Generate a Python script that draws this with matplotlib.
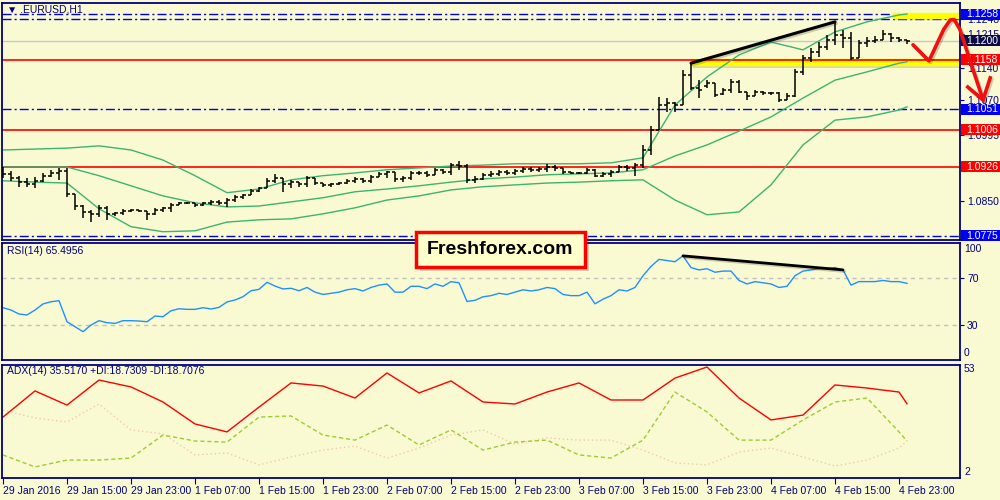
import matplotlib
matplotlib.use("Agg")
import numpy as np
import matplotlib.pyplot as plt
import matplotlib.patheffects as pe
from matplotlib.patches import Rectangle
from matplotlib.transforms import blended_transform_factory

plt.rcParams["font.family"] = ["Liberation Sans", "DejaVu Sans"]

BG = "#FAFAD2"
NAVY = "#000080"

# -----------------------------
# EURUSD H1 bars (29 Jan 07:00 ... 5 Feb 00:00)
# -----------------------------
opens = [1.0919, 1.0910, 1.0901, 1.0892, 1.0888, 1.0895, 1.0906, 1.0912, 1.0916, 1.0866,
         1.0840, 1.0827, 1.0823, 1.0836, 1.0823, 1.0825, 1.0829, 1.0832, 1.0829, 1.0823,
         1.0832, 1.0836, 1.0842, 1.0847, 1.0847, 1.0842, 1.0847, 1.0849, 1.0847, 1.0853,
         1.0860, 1.0864, 1.0873, 1.0879, 1.0895, 1.0901, 1.0888, 1.0892, 1.0888, 1.0901,
         1.0890, 1.0886, 1.0888, 1.0890, 1.0895, 1.0899, 1.0895, 1.0903, 1.0910, 1.0914,
         1.0899, 1.0901, 1.0912, 1.0912, 1.0908, 1.0919, 1.0914, 1.0929, 1.0927, 1.0897,
         1.0899, 1.0908, 1.0910, 1.0914, 1.0912, 1.0916, 1.0921, 1.0919, 1.0921, 1.0925,
         1.0923, 1.0914, 1.0912, 1.0912, 1.0919, 1.0906, 1.0910, 1.0914, 1.0925, 1.0923,
         1.0929, 1.0962, 1.1006, 1.1060, 1.1064, 1.1060, 1.1125, 1.1097, 1.1101, 1.1108,
         1.1084, 1.1093, 1.1110, 1.1088, 1.1080, 1.1088, 1.1086, 1.1086, 1.1071, 1.1080,
         1.1132, 1.1162, 1.1175, 1.1186, 1.1201, 1.1212, 1.1206, 1.1162, 1.1195, 1.1199,
         1.1201, 1.1215, 1.1206, 1.1201]
highs = [1.0925, 1.0916, 1.0906, 1.0901, 1.0903, 1.0912, 1.0919, 1.0923, 1.0923, 1.0866,
         1.0842, 1.0832, 1.0842, 1.0840, 1.0827, 1.0834, 1.0834, 1.0832, 1.0829, 1.0836,
         1.0838, 1.0847, 1.0849, 1.0849, 1.0847, 1.0849, 1.0853, 1.0853, 1.0858, 1.0864,
         1.0866, 1.0877, 1.0882, 1.0901, 1.0910, 1.0901, 1.0897, 1.0892, 1.0906, 1.0901,
         1.0890, 1.0890, 1.0892, 1.0899, 1.0903, 1.0901, 1.0908, 1.0914, 1.0916, 1.0914,
         1.0906, 1.0916, 1.0916, 1.0916, 1.0923, 1.0921, 1.0934, 1.0938, 1.0932, 1.0906,
         1.0912, 1.0916, 1.0919, 1.0919, 1.0921, 1.0925, 1.0925, 1.0925, 1.0932, 1.0929,
         1.0923, 1.0914, 1.0914, 1.0923, 1.0921, 1.0914, 1.0919, 1.0929, 1.0929, 1.0934,
         1.0973, 1.1014, 1.1078, 1.1075, 1.1067, 1.1136, 1.1151, 1.1114, 1.1114, 1.1108,
         1.1097, 1.1117, 1.1114, 1.1088, 1.1093, 1.1091, 1.1088, 1.1088, 1.1086, 1.1138,
         1.1169, 1.1184, 1.1197, 1.1212, 1.1241, 1.1223, 1.1219, 1.1201, 1.1208, 1.1210,
         1.1223, 1.1217, 1.1208, 1.1201]
lows = [1.0901, 1.0895, 1.0882, 1.0882, 1.0879, 1.0892, 1.0903, 1.0897, 1.0860, 1.0832,
        1.0814, 1.0805, 1.0816, 1.0810, 1.0818, 1.0821, 1.0827, 1.0827, 1.0810, 1.0821,
        1.0827, 1.0827, 1.0842, 1.0845, 1.0838, 1.0840, 1.0842, 1.0842, 1.0838, 1.0849,
        1.0855, 1.0864, 1.0871, 1.0879, 1.0890, 1.0871, 1.0879, 1.0882, 1.0882, 1.0886,
        1.0882, 1.0882, 1.0886, 1.0888, 1.0890, 1.0890, 1.0890, 1.0903, 1.0901, 1.0892,
        1.0892, 1.0897, 1.0908, 1.0903, 1.0908, 1.0910, 1.0908, 1.0919, 1.0890, 1.0890,
        1.0897, 1.0903, 1.0906, 1.0908, 1.0908, 1.0912, 1.0914, 1.0914, 1.0914, 1.0916,
        1.0910, 1.0910, 1.0910, 1.0910, 1.0903, 1.0903, 1.0903, 1.0914, 1.0916, 1.0906,
        1.0923, 1.0951, 1.1006, 1.1045, 1.1045, 1.1060, 1.1093, 1.1075, 1.1097, 1.1078,
        1.1082, 1.1086, 1.1086, 1.1071, 1.1080, 1.1082, 1.1082, 1.1067, 1.1071, 1.1078,
        1.1125, 1.1154, 1.1164, 1.1180, 1.1191, 1.1184, 1.1158, 1.1162, 1.1186, 1.1195,
        1.1201, 1.1197, 1.1197, 1.1193]
closes = [1.0910, 1.0901, 1.0892, 1.0888, 1.0895, 1.0906, 1.0912, 1.0916, 1.0866, 1.0840,
          1.0827, 1.0823, 1.0836, 1.0823, 1.0825, 1.0829, 1.0832, 1.0829, 1.0823, 1.0832,
          1.0836, 1.0842, 1.0847, 1.0847, 1.0842, 1.0847, 1.0849, 1.0847, 1.0853, 1.0860,
          1.0864, 1.0873, 1.0879, 1.0895, 1.0901, 1.0888, 1.0892, 1.0888, 1.0901, 1.0890,
          1.0886, 1.0888, 1.0890, 1.0895, 1.0899, 1.0895, 1.0903, 1.0910, 1.0914, 1.0899,
          1.0901, 1.0912, 1.0912, 1.0908, 1.0919, 1.0914, 1.0929, 1.0927, 1.0897, 1.0899,
          1.0908, 1.0910, 1.0914, 1.0912, 1.0916, 1.0921, 1.0919, 1.0921, 1.0925, 1.0923,
          1.0914, 1.0912, 1.0912, 1.0919, 1.0906, 1.0910, 1.0914, 1.0925, 1.0923, 1.0929,
          1.0962, 1.1006, 1.1060, 1.1064, 1.1060, 1.1125, 1.1097, 1.1093, 1.1108, 1.1082,
          1.1093, 1.1110, 1.1088, 1.1080, 1.1088, 1.1086, 1.1086, 1.1071, 1.1080, 1.1132,
          1.1162, 1.1175, 1.1186, 1.1201, 1.1212, 1.1206, 1.1162, 1.1195, 1.1199, 1.1201,
          1.1215, 1.1206, 1.1201, 1.1200]

# Bollinger bands, read every 4th bar
band_idx = [0, 4, 8, 12, 16, 20, 24, 28, 32, 36, 40, 44, 48, 52, 56, 60, 64, 68, 72, 76,
            80, 84, 88, 92, 96, 100, 104, 108, 112, 113]
bb_upper = [1.0962, 1.0964, 1.0966, 1.0971, 1.0962, 1.0940, 1.0906, 1.0869, 1.0877, 1.0897,
            1.0906, 1.0912, 1.0919, 1.0923, 1.0927, 1.0929, 1.0932, 1.0932, 1.0932, 1.0934,
            1.0945, 1.1060, 1.1121, 1.1169, 1.1197, 1.1180, 1.1219, 1.1241, 1.1256, 1.1258]
bb_middle = [1.0925, 1.0925, 1.0925, 1.0906, 1.0884, 1.0862, 1.0847, 1.0838, 1.0840, 1.0849,
             1.0858, 1.0871, 1.0877, 1.0884, 1.0892, 1.0899, 1.0903, 1.0908, 1.0910, 1.0912,
             1.0919, 1.0949, 1.0973, 1.1003, 1.1034, 1.1075, 1.1114, 1.1132, 1.1151, 1.1154]
bb_lower = [1.0895, 1.0892, 1.0890, 1.0834, 1.0795, 1.0784, 1.0786, 1.0805, 1.0810, 1.0812,
            1.0823, 1.0836, 1.0853, 1.0862, 1.0875, 1.0882, 1.0886, 1.0890, 1.0892, 1.0895,
            1.0897, 1.0853, 1.0821, 1.0827, 1.0886, 1.0973, 1.1027, 1.1034, 1.1049, 1.1056]

# RSI(14)
rsi = [44.7, 42.7, 39.3, 38.5, 42.7, 47.9, 49.8, 50.7, 32.7, 28.5,
       24.2, 29.9, 33.6, 31.9, 31.3, 33.6, 33.6, 33.3, 32.7, 37.6,
       37.0, 42.1, 43.8, 43.3, 43.3, 44.7, 43.6, 45.0, 49.6, 51.3,
       54.1, 59.2, 60.4, 66.4, 63.2, 60.7, 61.3, 59.2, 62, 58,
       56, 57, 58, 60, 61, 59, 62, 64, 65, 58,
       58, 63, 63, 61, 65, 63, 67, 66, 50, 51,
       54, 55, 57, 56, 58, 60, 59, 60, 62, 61,
       56, 55, 55, 58, 48, 52, 55, 60, 59, 62,
       72, 80, 86, 85, 84, 89, 79, 77, 78, 75,
       76, 76, 68, 65, 67, 66, 65, 62, 63, 72,
       76, 77, 78, 78, 79, 77, 64, 67, 67, 67,
       68, 67, 67, 65.5]

# ADX(14), read every 4th bar
adx = [29.5, 41.3, 34.9, 46.2, 43.1, 36.3, 26.4, 22.8, 34.0, 44.9,
       43.5, 38.1, 49.4, 40.4, 45.8, 36.3, 35.4, 40.8, 44.9, 37.2,
       37.2, 47.1, 52.1, 38.1, 28.2, 30.4, 44.0, 42.6, 40.8, 35.5]
plus_di = [12.4, 7.0, 10.1, 10.1, 11.0, 21.4, 18.7, 18.2, 29.5, 30.0,
           21.4, 19.1, 25.9, 16.9, 23.7, 14.6, 18.2, 19.1, 12.4, 11.0,
           19.1, 40.8, 31.8, 19.1, 19.1, 28.2, 36.3, 38.1, 22.8, 18.7]
minus_di = [32.7, 29.1, 27.3, 35.4, 23.7, 21.9, 12.4, 13.3, 7.9, 11.5,
            14.6, 16.4, 11.0, 15.5, 21.4, 23.7, 17.3, 20.1, 19.1, 19.1,
            14.6, 8.8, 7.9, 13.7, 15.5, 11.5, 7.4, 10.1, 15.5, 18.7]

# levels drawn on the chart
blue_levels = [1.1258, 1.1248, 1.1051, 1.0775]
red_levels = [1.1158, 1.1006, 1.0926]
bid_price = 1.1200
axis_ticks = [1.1248, 1.1215, 1.1140, 1.1070, 1.0995, 1.0925, 1.0850]
box_levels = [1.1258, 1.1200, 1.1158, 1.1051, 1.1006, 1.0926, 1.0775]
box_colors = ["#0000F0", "#0B0B45", "#FF0000", "#0000F0", "#FF0000", "#FF0000", "#0000F0"]

time_ticks = [0, 8, 16, 24, 32, 40, 48, 56, 64, 72, 80, 88, 96, 104, 112]
time_labels = ["29 Jan 2016", "29 Jan 15:00", "29 Jan 23:00", "1 Feb 07:00", "1 Feb 15:00",
               "1 Feb 23:00", "2 Feb 07:00", "2 Feb 15:00", "2 Feb 23:00", "3 Feb 07:00",
               "3 Feb 15:00", "3 Feb 23:00", "4 Feb 07:00", "4 Feb 15:00", "4 Feb 23:00"]

# hand drawn annotations (bar index, price)
trend_price = ([86, 104], [1.1151, 1.1241])
trend_rsi = ([85, 105], [89, 77])
arrow_x = [113.75, 115.75, 117.6, 118.4, 118.9, 119.6, 122.5]
arrow_y = [1.1191, 1.1156, 1.1225, 1.1245, 1.1246, 1.1225, 1.1071]
head_x = [120.6, 122.5, 123.4]
head_y = [1.1099, 1.1071, 1.1119]


fig = plt.figure(figsize=(10, 5), dpi=100, facecolor=BG)


def panel(top, bottom):
    return [2 / 1000, 1 - bottom / 500, 958 / 1000, (bottom - top) / 500]


ax = fig.add_axes(panel(3, 240))
ax_rsi = fig.add_axes(panel(243, 360))
ax_adx = fig.add_axes(panel(365, 478))

for a in (ax, ax_rsi, ax_adx):
    a.set_facecolor(BG)
    a.set_xlim(-0.125, 119.625)
    for s in a.spines.values():
        s.set_color(NAVY)
        s.set_linewidth(1.3)
    a.yaxis.tick_right()
    a.tick_params(axis="y", direction="out", length=3, color=NAVY, labelcolor=NAVY,
                  labelsize=7.5, pad=2)

shadow = [pe.SimpleLineShadow(offset=(1.2, -1.2), alpha=0.18), pe.Normal()]
patch_shadow = [pe.withSimplePatchShadow(offset=(1.5, -2), alpha=0.18)]

# -----------------------------
# Main price panel
# -----------------------------
ax.set_ylim(1.0766, 1.1282)
ax.set_xticks([])

for lv in blue_levels:
    ax.axhline(lv, color="#0000E0", lw=1, ls=(0, (6.5, 2.2, 1.5, 2.2)), zorder=1)
ax.axhline(bid_price, color="#C8C8C8", lw=1, zorder=1)

ax.fill_between([111.2, 119.7], 1.1250, 1.1260, color="#FFFF00", zorder=1.5,
                path_effects=patch_shadow)
ax.fill_between([86, 119.7], 1.1147, 1.1159, color="#FFFF00", zorder=1.5,
                path_effects=patch_shadow)

for lv in red_levels:
    ax.axhline(lv, color="#FF0000", lw=1.2, zorder=1.6)

ax.plot(band_idx, bb_upper, color="#3CB371", lw=1, zorder=2)
ax.plot(band_idx, bb_middle, color="#3CB371", lw=1, zorder=2)
ax.plot(band_idx, bb_lower, color="#3CB371", lw=1, zorder=2)

idx = np.arange(len(closes))
ax.vlines(idx, lows, highs, color="black", lw=1.1, zorder=3)
ax.hlines(opens, idx - 0.4, idx, color="black", lw=1.1, zorder=3)
ax.hlines(closes, idx, idx + 0.4, color="black", lw=1.1, zorder=3)

ax.plot(*trend_price, color="black", lw=2.2, zorder=4, solid_capstyle="round",
        path_effects=shadow)

ax.set_yticks(axis_ticks)
ax.set_yticklabels([f"{t:.4f}" for t in axis_ticks])

tr = blended_transform_factory(ax.transAxes, ax.transData)
for lv, col in zip(box_levels, box_colors):
    ax.add_patch(Rectangle((1.0015, lv - 0.0012), 0.042, 0.0024, transform=tr,
                           facecolor=col, edgecolor="none", clip_on=False, zorder=6))
    ax.text(1.0065, lv, f"{lv:.4f}", transform=tr, color="white", fontsize=7.5,
            va="center", ha="left", clip_on=False, zorder=7)

ax.plot(arrow_x, arrow_y, color="#F01010", lw=2.6, zorder=10, clip_on=False,
        solid_joinstyle="round", solid_capstyle="round", path_effects=shadow)
ax.plot(head_x, head_y, color="#F01010", lw=2.6, zorder=10, clip_on=False,
        solid_joinstyle="miter", path_effects=shadow)

fig.text(0.007, 1 - 10 / 500, "\u25bc .EURUSD,H1", color=NAVY, fontsize=7.5, va="center")

# -----------------------------
# RSI panel
# -----------------------------
ax_rsi.set_ylim(0, 100)
ax_rsi.set_xticks([])
ax_rsi.axhline(70, color="#C0C0C0", lw=1, ls=(0, (3, 3)))
ax_rsi.axhline(30, color="#C0C0C0", lw=1, ls=(0, (3, 3)))
ax_rsi.plot(idx, rsi, color="#1E90FF", lw=1)
ax_rsi.plot(*trend_rsi, color="black", lw=2.0, solid_capstyle="round", path_effects=shadow)
ax_rsi.set_yticks([70, 30])
ax_rsi.set_yticklabels(["70", "30"])
fig.text(0.964, 1 - 249 / 500, "100", color=NAVY, fontsize=7.5, va="center")
fig.text(0.964, 1 - 353 / 500, "0", color=NAVY, fontsize=7.5, va="center")
fig.text(0.007, 1 - 251 / 500, "RSI(14) 65.4956", color=NAVY, fontsize=7.5, va="center")

# -----------------------------
# ADX panel
# -----------------------------
ax_adx.set_ylim(2, 53)
ax_adx.set_yticks([])
ax_adx.plot(band_idx, minus_di, color="#F2C8A8", lw=1, ls=(0, (1, 2)))
ax_adx.plot(band_idx, plus_di, color="#9ACD32", lw=1, ls=(0, (3, 2)))
ax_adx.plot(band_idx, adx, color="#FF0000", lw=1)
fig.text(0.964, 1 - 369 / 500, "53", color=NAVY, fontsize=7.5, va="center")
fig.text(0.964, 1 - 472 / 500, "2", color=NAVY, fontsize=7.5, va="center")
fig.text(0.007, 1 - 371 / 500, "ADX(14) 35.5170 +DI:18.7309 -DI:18.7076", color=NAVY,
         fontsize=7.5, va="center")

ax_adx.set_xticks(time_ticks)
ax_adx.set_xticklabels(time_labels, ha="left")
ax_adx.tick_params(axis="x", direction="out", length=4, color=NAVY, labelcolor=NAVY,
                   labelsize=7.5, pad=2)

# -----------------------------
# Watermark box
# -----------------------------
wm = Rectangle((416 / 1000, 1 - 267 / 500), 169 / 1000, 35 / 500, transform=fig.transFigure,
               facecolor="#FFFFCC", edgecolor="#FF0000", lw=2.5, zorder=20,
               path_effects=[pe.withSimplePatchShadow(offset=(3, -3), alpha=0.25)])
fig.patches.append(wm)
fig.text(500.5 / 1000, 1 - 249.5 / 500, "Freshforex.com", fontsize=14, fontweight="bold",
         color="black", ha="center", va="center", zorder=21)

fig.savefig("out.png", dpi=100, facecolor=BG)
